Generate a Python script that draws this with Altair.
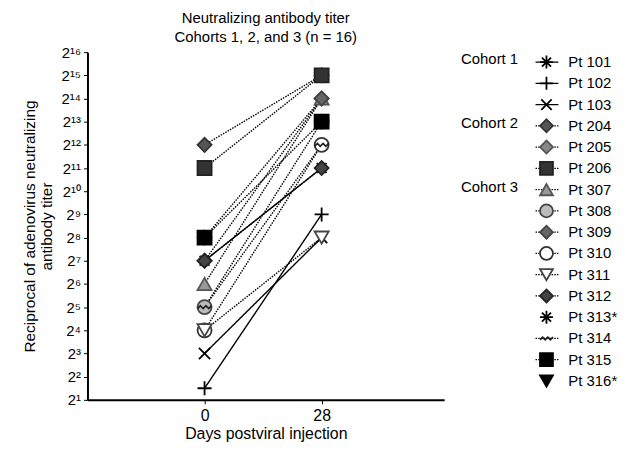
import json
import altair as alt
import pandas as pd

# ---- data ----
patients = ["Pt 101", "Pt 102", "Pt 103", "Pt 204", "Pt 205", "Pt 206", "Pt 307", "Pt 308",
            "Pt 309", "Pt 310", "Pt 311", "Pt 312", "Pt 313*", "Pt 314", "Pt 315", "Pt 316*"]
cohorts = ["Cohort 1"] * 3 + ["Cohort 2"] * 3 + ["Cohort 3"] * 10
# log2 reciprocal titer (exponent); None = not plotted
day0 = [7, 1.5, 3, 12, 8, 11, 6, 5, 7, 4, 4, 7, None, 5, 8, None]
day28 = [11, 9, 8, 15, 14, 15, 14, 13, 14, 12, 8, 11, None, 12, 13, None]
days = [0, 28]
tick_exps = list(range(1, 17))
sup = str.maketrans("0123456789", "⁰¹²³⁴⁵⁶⁷⁸⁹")
tick_labels = ["2" + str(e).translate(sup) for e in tick_exps]

# marker styles
asterisk = "M-1,0L1,0M0,-1L0,1M-0.7,-0.7L0.7,0.7M-0.7,0.7L0.7,-0.7"
plus = "M-1,0L1,0M0,-1L0,1"
xmark = "M-0.8,-0.8L0.8,0.8M-0.8,0.8L0.8,-0.8"
wave = "M-1,0.2L-0.6,-0.2L-0.2,0.2L0.2,-0.2L0.6,0.2L1,-0.2"
shapes = [asterisk, plus, xmark, "diamond", "diamond", "square", "triangle-up", "circle",
          "diamond", "circle", "triangle-down", "diamond", asterisk, wave, "square", "triangle-down"]
fills = ["transparent", "transparent", "transparent", "#555555", "#888888", "#333333", "#999999", "#bbbbbb",
         "#666666", "#ffffff", "#ffffff", "#444444", "transparent", "transparent", "#000000", "#000000"]
strokes = ["#000000", "#000000", "#000000", "#333333", "#555555", "#222222", "#555555", "#444444",
           "#444444", "#333333", "#444444", "#222222", "#000000", "#222222", "#000000", "#000000"]
styles = ["solid" if c == "Cohort 1" else "dotted" for c in cohorts]

rows = []
for p, c, s, a, b in zip(patients, cohorts, styles, day0, day28):
    if a is None:
        continue
    rows.append({"pt": p, "cohort": c, "style": s, "day": days[0], "titer": a})
    rows.append({"pt": p, "cohort": c, "style": s, "day": days[1], "titer": b})
df = pd.DataFrame(rows)

leg = pd.DataFrame({
    "pt": patients,
    "idx": list(range(len(patients))),
    "style": styles,
    "cohort_label": [c if i == 0 or cohorts[i - 1] != c else "" for i, c in enumerate(cohorts)],
})
leg_lines = leg[leg["pt"].isin(df["pt"].unique())]

FONT = "Liberation Sans"
shape_scale = alt.Scale(domain=patients, range=shapes)
fill_scale = alt.Scale(domain=patients, range=fills)
stroke_scale = alt.Scale(domain=patients, range=strokes)
dash_scale = alt.Scale(domain=["solid", "dotted"], range=[[1, 0], [1.5, 1.2]])

label_expr = json.dumps(tick_labels) + "[datum.value - 1]"

x_axis = alt.Axis(values=days, title="Days postviral injection", grid=False,
                  domainColor="black", domainWidth=2, tickColor="black", tickSize=4,
                  labelFontSize=16, titleFontSize=16, titleFontWeight="normal",
                  labelFont=FONT, titleFont=FONT, labelColor="black", titleColor="black",
                  labelPadding=4, titlePadding=2)
y_axis = alt.Axis(values=tick_exps, labelExpr=label_expr, grid=False, labelOverlap=False,
                  title=["Reciprocal of adenovirus neutralizing", "antibody titer"],
                  domainColor="black", domainWidth=2, tickColor="black", tickSize=4,
                  labelFontSize=15, titleFontSize=15.5, titleFontWeight="normal",
                  labelFont=FONT, titleFont=FONT, labelColor="black", titleColor="black",
                  labelPadding=3, titlePadding=6)
x_enc = alt.X("day:Q", scale=alt.Scale(domain=[-28, 57.3], nice=False), axis=x_axis)
y_enc = alt.Y("titer:Q", scale=alt.Scale(domain=[1, 16], nice=False, zero=False), axis=y_axis)

lines = alt.Chart(df).mark_line(strokeWidth=1.4, color="black").encode(
    x=x_enc, y=y_enc, detail="pt:N",
    strokeDash=alt.StrokeDash("style:N", scale=dash_scale, legend=None),
)
points = alt.Chart(df).mark_point(filled=False, size=200, strokeWidth=1.8, opacity=1).encode(
    x=x_enc, y=y_enc,
    shape=alt.Shape("pt:N", scale=shape_scale, legend=None),
    fill=alt.Fill("pt:N", scale=fill_scale, legend=None),
    stroke=alt.Stroke("pt:N", scale=stroke_scale, legend=None),
)

main = alt.layer(lines, points).properties(
    width=359, height=350,
    title=alt.TitleParams(["Neutralizing antibody titer", "Cohorts 1, 2, and 3 (n = 16)"],
                          fontSize=15, fontWeight="normal", font=FONT, color="black",
                          anchor="middle", offset=0, lineHeight=19),
)

ly = alt.Y("idx:Q", scale=alt.Scale(domain=[0, 15], range=[10, 331]), axis=None)
leg_rule = alt.Chart(leg_lines).mark_rule(strokeWidth=1.3, color="black").encode(
    x=alt.value(92), x2=alt.value(115), y=ly,
    strokeDash=alt.StrokeDash("style:N", scale=dash_scale, legend=None),
)
leg_pts = alt.Chart(leg).mark_point(filled=False, size=170, strokeWidth=1.8, opacity=1).encode(
    x=alt.value(103), y=ly,
    shape=alt.Shape("pt:N", scale=shape_scale, legend=None),
    fill=alt.Fill("pt:N", scale=fill_scale, legend=None),
    stroke=alt.Stroke("pt:N", scale=stroke_scale, legend=None),
)
leg_txt = alt.Chart(leg).mark_text(align="left", baseline="middle", fontSize=15, font=FONT,
                                   color="black").encode(
    x=alt.value(125), y=ly, text="pt:N")
leg_coh = alt.Chart(leg).mark_text(align="left", baseline="middle", fontSize=15, font=FONT,
                                   color="black", dy=-3).encode(
    x=alt.value(17), y=ly, text="cohort_label:N")
legend = alt.layer(leg_rule, leg_pts, leg_txt, leg_coh).properties(width=170, height=350)

chart = alt.hconcat(main, legend, spacing=0).properties(
    padding={"left": 14, "top": 2, "right": 0, "bottom": 0}
).configure_view(stroke=None).configure_axisY(labelOverlap=False)

chart.save("out.html", embed_options={"renderer": "svg", "actions": False})
